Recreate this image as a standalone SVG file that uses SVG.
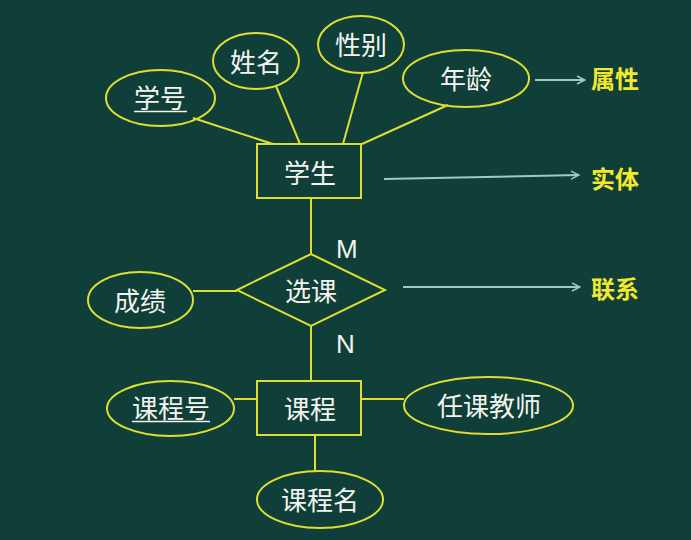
<svg xmlns="http://www.w3.org/2000/svg" width="691" height="540" viewBox="0 0 691 540">
<style>
.shape{fill:none;stroke:#dede32;stroke-width:2}
.edge{stroke:#dede32;stroke-width:2;fill:none}
.lbl{font-family:"Noto Sans CJK SC","Noto Sans",sans-serif;font-size:26px;fill:#f4f4ee;text-anchor:middle;dominant-baseline:central}
.card{font-family:"Liberation Sans",Arial,sans-serif;font-size:26px;fill:#f4f4ee;text-anchor:start}
.note{font-family:"Noto Sans CJK SC",sans-serif;font-size:24px;font-weight:bold;fill:#f2e82c;dominant-baseline:central}
.ptr{stroke:#9fcac2;stroke-width:2;fill:none}
.ul{stroke:#f4f4ee;stroke-width:1.5}
</style>
<defs>
<marker id="ah" viewBox="0 0 10 10" refX="9" refY="5" markerWidth="10" markerHeight="10" markerUnits="userSpaceOnUse" orient="auto">
<path d="M1,1 L9,5 L1,9" fill="none" stroke="#9fcac2" stroke-width="1.5"/>
</marker>
</defs>
<rect width="691" height="540" fill="#0f3f38"/>
<g id="connectors">
<line class="edge" x1="193" y1="118" x2="273" y2="144"/>
<line class="edge" x1="276" y1="86" x2="300" y2="144"/>
<line class="edge" x1="363" y1="72" x2="343" y2="144"/>
<line class="edge" x1="448" y1="105" x2="362" y2="144"/>
<line class="edge" x1="311" y1="198" x2="311" y2="254"/>
<line class="edge" x1="193" y1="291" x2="237" y2="291"/>
<line class="edge" x1="311" y1="326" x2="311" y2="381"/>
<line class="edge" x1="234" y1="399" x2="257" y2="399"/>
<line class="edge" x1="361" y1="399" x2="404" y2="399"/>
<line class="edge" x1="315" y1="435" x2="315" y2="471"/>
<text class="card" x="336" y="258">M</text>
<text class="card" x="336" y="353">N</text>
</g>
<g id="xuehao"><ellipse class="shape" cx="160.5" cy="98" rx="54.5" ry="28"/><text class="lbl" x="160" y="96">学号</text><line class="ul" x1="134" y1="111.5" x2="187" y2="111.5"/></g>
<g id="xingming"><ellipse class="shape" cx="256" cy="61" rx="43" ry="28"/><text class="lbl" x="256" y="60">姓名</text></g>
<g id="xingbie"><ellipse class="shape" cx="361" cy="44.5" rx="43" ry="28.5"/><text class="lbl" x="361" y="43">性别</text></g>
<g id="nianling"><ellipse class="shape" cx="466" cy="78.5" rx="63" ry="28.5"/><text class="lbl" x="466" y="77">年龄</text></g>
<g id="xuesheng"><rect class="shape" x="257" y="144" width="104" height="54"/><text class="lbl" x="310" y="171">学生</text></g>
<g id="xuanke"><polygon class="shape" points="237,290 311,254 385,290 311,326"/><text class="lbl" x="311" y="289">选课</text></g>
<g id="chengji"><ellipse class="shape" cx="140.5" cy="300" rx="52.5" ry="28"/><text class="lbl" x="140" y="299">成绩</text></g>
<g id="kecheng"><rect class="shape" x="257" y="381" width="104" height="54"/><text class="lbl" x="310" y="407">课程</text></g>
<g id="kechenghao"><ellipse class="shape" cx="170.5" cy="408.5" rx="63.5" ry="27.5"/><text class="lbl" x="171" y="406">课程号</text><line class="ul" x1="132" y1="421.5" x2="210" y2="421.5"/></g>
<g id="renkejiaoshi"><ellipse class="shape" cx="488.5" cy="405.5" rx="84.5" ry="28.5"/><text class="lbl" x="489" y="404">任课教师</text></g>
<g id="kechengming"><ellipse class="shape" cx="320" cy="499.5" rx="63" ry="28.5"/><text class="lbl" x="320" y="498">课程名</text></g>
<g id="legend">
<line class="ptr" x1="535" y1="80" x2="585" y2="80" marker-end="url(#ah)"/>
<text class="note" x="591" y="77">属性</text>
<line class="ptr" x1="384" y1="179" x2="579" y2="175" marker-end="url(#ah)"/>
<text class="note" x="591" y="177">实体</text>
<line class="ptr" x1="403" y1="287" x2="580" y2="287" marker-end="url(#ah)"/>
<text class="note" x="591" y="287">联系</text>
</g>
</svg>
